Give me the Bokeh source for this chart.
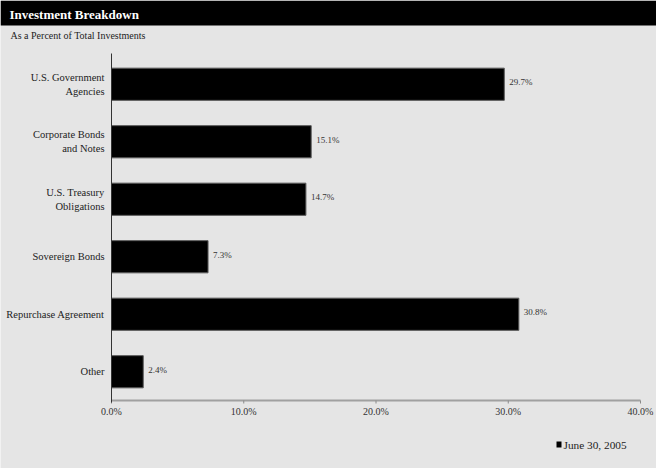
from bokeh.plotting import figure
from bokeh.models import Range1d
from bokeh.embed import file_html
from bokeh.resources import INLINE
from bokeh.core.properties import value

title_text = "Investment Breakdown"
subtitle_text = "As a Percent of Total Investments"
legend_text = "June 30, 2005"

categories = [
    "U.S. Government\nAgencies",
    "Corporate Bonds\nand Notes",
    "U.S. Treasury\nObligations",
    "Sovereign Bonds",
    "Repurchase Agreement",
    "Other",
]
values = [29.7, 15.1, 14.7, 7.3, 30.8, 2.4]
value_labels = ["29.7%", "15.1%", "14.7%", "7.3%", "30.8%", "2.4%"]
x_ticks = [0, 10, 20, 30, 40]
x_tick_labels = ["0.0%", "10.0%", "20.0%", "30.0%", "40.0%"]
x_min, x_max = 0, 40

FONT = "'Liberation Serif', 'Times New Roman', serif"
BG = "#e5e5e5"
W, H = 656, 468

# plot-area layout (pixels)
PL, PR = 111, 640          # x of 0% and 40%
ROW0, ROW = 83.75, 57.5    # centre of first row, row pitch
px_per_unit = (PR - PL) / (x_max - x_min)

n = len(categories)
y_pos = list(range(n))

x_range = Range1d(x_min - PL / px_per_unit, x_max + (W - PR) / px_per_unit)
y_range = Range1d((H - ROW0) / ROW, -ROW0 / ROW)   # inverted: first category on top

p = figure(width=W, height=H, x_range=x_range, y_range=y_range,
           x_axis_location=None, y_axis_location=None,
           output_backend="svg", toolbar_location=None, min_border=0)
p.extra_x_ranges = {"px": Range1d(0, W)}
p.extra_y_ranges = {"px": Range1d(H, 0)}
p.background_fill_color = BG
p.border_fill_color = BG
p.outline_line_color = None
p.xgrid.grid_line_color = None
p.ygrid.grid_line_color = None

# title bar and subtitle
p.quad(left=[0], right=[W], top=[0], bottom=[25], x_range_name="px", y_range_name="px",
       fill_color="black", line_color=None)
p.text(x=[9], y=[14], text=[title_text], x_range_name="px", y_range_name="px",
       text_baseline="middle", text_align="left", text_font=value(FONT),
       text_font_size="13px", text_font_style="bold", text_color="white")
p.text(x=[10], y=[35], text=[subtitle_text], x_range_name="px", y_range_name="px",
       text_baseline="middle", text_align="left", text_font=value(FONT),
       text_font_size="10px", text_color="#222222")

# bars
p.hbar(y=y_pos, left=0, right=values, height=0.56,
       fill_color="black", line_color="#5a5a5a", line_width=1)
p.text(x=values, y=y_pos, text=value_labels, x_offset=5, y_offset=-2,
       text_baseline="middle", text_align="left", text_font=value(FONT),
       text_font_size="9px", text_color="#333333")

# x axis (line, ticks, labels)
y_base = n - 0.5
p.segment(x0=[x_min], x1=[x_max], y0=[y_base], y1=[y_base],
          line_color="#a0a0a0", line_width=2)
p.segment(x0=x_ticks, x1=x_ticks, y0=[400] * len(x_ticks), y1=[403] * len(x_ticks),
          y_range_name="px", line_color="#8a8a8a", line_width=1)
p.text(x=x_ticks, y=[410.5] * len(x_ticks), text=x_tick_labels, y_range_name="px",
       text_baseline="middle", text_align="center", text_font=value(FONT),
       text_font_size="10px", text_color="#333333")

# y axis (line + category labels)
p.segment(x0=[x_min], x1=[x_min], y0=[-0.5 - 2 / ROW], y1=[y_base + 2 / ROW],
          line_color="#333333", line_width=1)
p.text(x=[x_min] * n, y=y_pos, text=categories, x_offset=-7,
       text_baseline="middle", text_align="right", text_font=value(FONT),
       text_font_size="10.5px", text_color="#222222", text_line_height=1.25)

# legend
p.quad(left=[556], right=[561], top=[441], bottom=[447], x_range_name="px", y_range_name="px",
       fill_color="black", line_color=None)
p.text(x=[563], y=[444], text=[legend_text], x_range_name="px", y_range_name="px",
       text_baseline="middle", text_align="left", text_font=value(FONT),
       text_font_size="11.3px", text_color="#222222")

open("out.html", "w").write(file_html(p, INLINE))
